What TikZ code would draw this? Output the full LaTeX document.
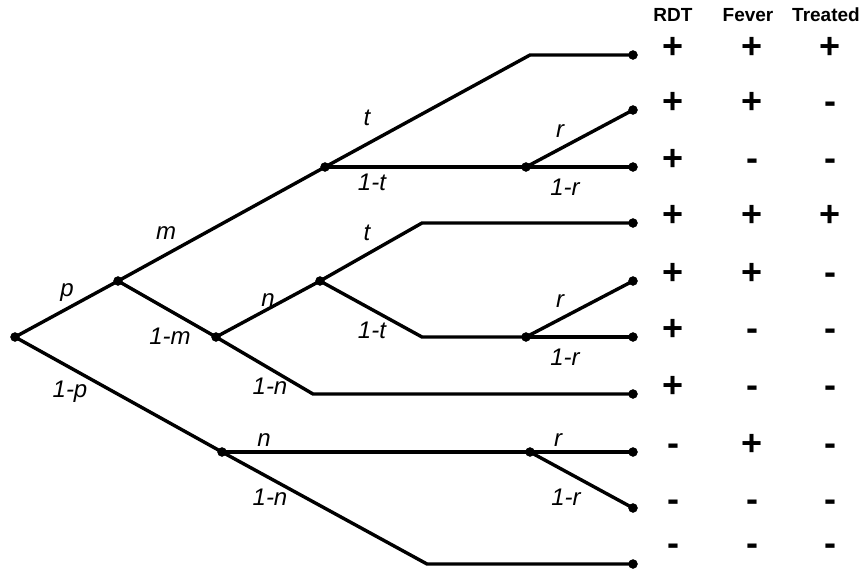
\documentclass[tikz,border=0pt]{standalone}
\usepackage{fontspec}
\setmainfont{Liberation Sans}
\usepackage{tikz}
\usetikzlibrary{positioning}

\tikzset{
	dot/.style={draw, circle, fill, inner sep=0pt, minimum size=9pt},
	branch/.style={line width=3.4pt},
	lbl/.style={inner sep=0pt, font=\fontsize{24}{24}\selectfont\itshape},
	head/.style={inner sep=0pt, font=\fontsize{19}{19}\selectfont\bfseries},
	sign/.style={inner sep=0pt, text height=0.62em, text depth=0pt, font=\fontsize{36}{36}\selectfont\bfseries}
}

\begin{document}
\begin{tikzpicture}[x=1pt, y=-1pt]
				\useasboundingbox (0, 0) rectangle (863, 571);
				% branch points
				\node[dot] (x0) at ( 15, 337) {};
				\node[dot] (xp) at (118, 281) {};
				\node[dot] (xm) at (325, 167) {};
				\node[dot] (xr1) at (526, 167) {};
				\node[dot] (x1m) at (216, 337) {};
				\node[dot] (xn) at (320, 281) {};
				\node[dot] (xr2) at (526, 337) {};
				\node[dot] (x1p) at (222, 452) {};
				\node[dot] (xr3) at (530, 452) {};
				% corners
				\coordinate (c1) at (530,  55);
				\coordinate (c4) at (422, 223);
				\coordinate (c6) at (422, 337);
				\coordinate (c7) at (313, 394);
				\coordinate (c10) at (427, 564);
				% leaves
				\node[dot] (e1) at (633,  55) {};
				\node[dot] (e2) at (633, 110) {};
				\node[dot] (e3) at (633, 167) {};
				\node[dot] (e4) at (633, 223) {};
				\node[dot] (e5) at (633, 281) {};
				\node[dot] (e6) at (633, 337) {};
				\node[dot] (e7) at (633, 394) {};
				\node[dot] (e8) at (633, 452) {};
				\node[dot] (e9) at (633, 508) {};
				\node[dot] (e10) at (633, 564) {};
				% branches
				\draw[branch] (x0.center) to (xp.center);
				\draw[branch] (x0.center) to (x1p.center);
				\draw[branch] (xp.center) to (xm.center);
				\draw[branch] (xp.center) to (x1m.center);
				\draw[branch] (xm.center) to (c1) to (e1.center);
				\draw[branch] (xm.center) to (xr1.center);
				\draw[branch] (xr1.center) to (e2.center);
				\draw[branch] (xr1.center) to (e3.center);
				\draw[branch] (x1m.center) to (xn.center);
				\draw[branch] (x1m.center) to (c7) to (e7.center);
				\draw[branch] (xn.center) to (c4) to (e4.center);
				\draw[branch] (xn.center) to (c6) to (xr2.center);
				\draw[branch] (xr2.center) to (e5.center);
				\draw[branch] (xr2.center) to (e6.center);
				\draw[branch] (x1p.center) to (xr3.center);
				\draw[branch] (x1p.center) to (c10) to (e10.center);
				\draw[branch] (xr3.center) to (e8.center);
				\draw[branch] (xr3.center) to (e9.center);
				% probabilities
				\node[lbl] (lp) at ( 67, 293) {p};
				\node[lbl] (l1p) at ( 70, 392) {1-p};
				\node[lbl] (lm) at (166, 233) {m};
				\node[lbl] (l1m) at (170, 336) {1-m};
				\node[lbl] (lt1) at (367, 118) {t};
				\node[lbl] (l1t1) at (372, 182) {1-t};
				\node[lbl] (lr1) at (560, 131) {r};
				\node[lbl] (l1r1) at (565, 187) {1-r};
				\node[lbl] (ln1) at (268, 300) {n};
				\node[lbl] (l1n1) at (270, 386) {1-n};
				\node[lbl] (lt2) at (367, 233) {t};
				\node[lbl] (l1t2) at (372, 330) {1-t};
				\node[lbl] (lr2) at (560, 301) {r};
				\node[lbl] (l1r2) at (565, 357) {1-r};
				\node[lbl] (ln2) at (264, 440) {n};
				\node[lbl] (l1n2) at (270, 497) {1-n};
				\node[lbl] (lr3) at (558, 440) {r};
				\node[lbl] (l1r3) at (566, 497) {1-r};
				% outcome table
				\node[head] (hrdt) at (673, 15) {RDT};
				\node[head] (hfev) at (748, 15) {Fever};
				\node[head] (htrt) at (826, 15) {Treated};
				\foreach \row/\y/\a/\b/\c in {1/55/+/+/+, 2/110/+/+/-, 3/167/+/-/-, 4/223/+/+/+, 5/281/+/+/-,
					6/337/+/-/-, 7/394/+/-/-, 8/452/-/+/-, 9/508/-/-/-, 10/552/-/-/-} {
					\node[sign] (rdt\row) at (673, \y) {\a};
					\node[sign] (fev\row) at (752, \y) {\b};
					\node[sign] (trt\row) at (830, \y) {\c};
				}
			\end{tikzpicture}
\end{document}
